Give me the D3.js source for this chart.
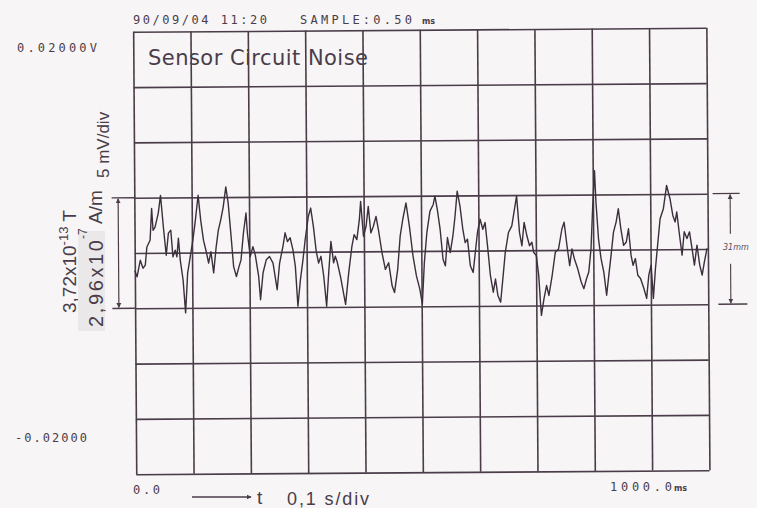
<!DOCTYPE html>
<html>
<head>
<meta charset="utf-8">
<script src="https://cdn.jsdelivr.net/npm/d3@7"></script>
<style>
  html, body { margin: 0; padding: 0; background: #f7f5f6; }
  svg { display: block; }
</style>
</head>
<body>
<svg id="chart" width="757" height="508"></svg>
<script>
// Recorded noise trace: time in ms, amplitude in mV (5 mV/div, 0.1 s/div)
const timeMs = [0, 3.8, 9.6, 14.3, 18.3, 21.3, 27.0, 30.0, 32.3, 35.8, 41.5,
  45.7, 50.3, 55.0, 59.0, 63.2, 66.7, 70.7, 73.6, 76.4, 79.4,
  84.1, 88.1, 92.1, 96.8, 101.6, 105.6, 111.3, 115.5, 120.1, 124.8,
  128.8, 133.0, 137.5, 142.2, 146.2, 150.4, 155.0, 159.7, 163.7, 167.9,
  172.4, 177.2, 181.2, 185.4, 189.9, 194.6, 196.8, 201.5, 206.3, 210.3,
  216.0, 219.0, 223.7, 229.4, 235.2, 241.2, 248.1, 252.7, 258.6, 262.6,
  266.6, 271.3, 276.1, 280.1, 284.1, 288.8, 293.5, 297.5, 303.3, 307.5,
  312.0, 316.7, 320.7, 324.9, 329.5, 334.2,
  338.2, 342.4, 346.9, 349.9, 352.8, 358.6, 367.3, 373.1, 379.0, 383.0,
  387.7, 392.3, 394.7, 399.3, 404.0, 408.0, 412.2, 416.7, 421.4, 425.4,
  431.4, 437.1, 442.9, 448.8, 452.8, 458.6, 463.3, 468.0, 473.8, 479.5,
  485.5, 491.2, 497.0, 501.2, 505.2, 509.9, 515.6, 521.4, 524.4, 528.4,
  533.1, 537.8, 541.8, 545.8, 550.5, 555.3, 559.3, 563.3, 568.0, 572.7,
  576.7, 580.7, 585.4, 590.2, 594.2, 598.2, 602.9, 607.6, 611.6, 615.6,
  620.3, 625.1, 629.1, 633.1, 637.8, 642.5, 646.5, 652.3, 658.2, 664.0,
  666.9, 671.5, 675.6, 679.7, 684.4, 688.9, 693.1, 695.9, 700.6, 704.6,
  707.6, 708.8, 713.4, 718.1, 722.1, 728.0, 733.8, 739.5, 745.5, 749.5,
  754.2, 758.7, 762.9, 766.9, 772.7, 778.6, 783.2, 787.9, 791.9, 796.1,
  799.6, 803.1, 805.3, 809.3, 813.5, 818.1, 822.8, 826.8, 831.0, 835.5,
  840.2, 844.2, 848.4, 853.0, 857.7, 861.7, 865.9, 869.3, 873.4, 877.4,
  882.1, 887.9, 892.6, 896.6, 900.8, 904.3, 908.3, 912.3, 917.0, 922.8,
  928.7, 934.5, 939.2, 943.2, 946.1, 950.7, 954.9, 958.9, 963.6, 968.1,
  972.3, 976.3, 981.0, 985.6, 989.7, 993.8, 998.5];

const noiseMv = [-1.6, -2.16, -0.66, -1.38, -1.11, 0.54, 1.14, 4.02, 2.04, 2.33, 3.57,
  5.19, 2.33, -0.22, 1.77, 2.04, -0.37, 0.23, -0.37, 1.31, -0.67,
  -2.47, -5.45, -1.85, -0.38, 1.13, 2.66, 5.18, 2.93, 1.12, 0.07,
  -0.95, 0.07, -1.85, 0.51, 2.02, 2.92, 4.12, 5.92, 4.42, 1.74,
  -1.29, -2.19, -1.41, -0.69, 1.74, 3.54, 1.74, -0.40, 0.50, -0.25,
  -2.20, -4.30, -1.87, -0.70, -0.40, -1.00, -3.41, -1.00, 0.49, 1.73,
  0.94, 1.28, 0.19, -1.31, -4.91, -2.51, -0.71, 1.09, 3.19, 3.95,
  2.29, 0.03, -1.02, -0.42, -2.22, -4.93,
  -1.92, 0.93, -1.02, -0.42, -0.87, -2.23, -4.78, -1.93, 0.47, 1.52,
  1.07, 2.87, 4.52, 1.37, 2.27, 4.07, 1.67, 2.27, 3.16, 1.97,
  -0.13, -1.64, -1.04, -3.15, -3.74, -1.64, 1.35, 2.86, 4.36, 2.25,
  -0.45, -2.25, -3.45, -4.81, -1.05, 1.65, 3.60, 4.20, 4.95, 3.75,
  1.94, -0.76, -1.36, 1.20, -0.16, 1.34, 3.14, 5.39, 4.04, 1.94,
  0.74, 1.04, -1.37, -1.97, -0.17, 1.64, 2.83, 1.93, 2.53, 0.42,
  -2.28, -3.77, -2.58, -4.08, -4.68, -2.28, -0.18, 1.62, 2.22, 4.02,
  4.92, 1.62, 0.41, 2.52, 1.31, 0.41, 0.72, -0.18, -0.49, -2.30,
  -5.00, -5.90, -4.40, -3.20, -4.10, -2.30, -0.19, 0.10, 1.90, 2.51,
  0.40, -1.41, 0.10, -0.80, -1.71, -2.90, -3.51, -2.61, -2.01, 0.09,
  3.99, 7.14, 4.30, 0.99, -0.81, -2.01, -4.12, -2.32, -0.52, 1.59,
  2.49, 3.69, 1.88, 0.38, 0.68, 1.88, -0.53, -1.43, -0.82, -2.33,
  -2.63, -3.53, -4.43, -2.33, -1.43, -4.43, -1.73, 0.37, 2.77, 3.67,
  5.77, 4.57, 3.06, 2.47, 3.37, 1.26, -0.54, 1.57, 0.96, 1.56,
  0.06, -1.45, 0.35, -1.45, -2.35, -1.14, 0.05];

// Grid divisions
const xDivisions = d3.range(0, 1001, 100);   // ms
const yDivisions = d3.range(-20, 21, 5);     // mV
const markerLevels = [5, -5];                // mV, span of the measured band

// Texts
const stampText = "90/09/04 11:20";
const sampleText = "SAMPLE:0.50";
const sampleUnit = "ms";
const titleText = "Sensor Circuit Noise";
const yTopLabel = "0.02000V";
const yBottomLabel = "-0.02000";
const xStartLabel = "0.0";
const xEndLabel = "1000.0";
const xAxisText = "0,1 s/div";
const bandWidthNote = "31mm";

const ink = "#4a3d49";
const traceInk = "#3b2f3b";
const plotFont = "'DejaVu Sans', Verdana, sans-serif";
const monoFont = "'DejaVu Sans Mono', monospace";
const labelFont = "'Liberation Sans', Arial, sans-serif";

const svg = d3.select("#chart");

svg.append("defs").html(`
  <marker id="ah" viewBox="0 0 10 10" refX="9" refY="5" markerWidth="5" markerHeight="6" orient="auto-start-reverse" markerUnits="userSpaceOnUse">
    <path d="M0,0 L10,5 L0,10 Z" fill="${ink}"/>
  </marker>`);

const x = d3.scaleLinear().domain([0, 1000]).range([134.7, 707.9]);
const y = d3.scaleLinear().domain([-20, 20]).range([472.2, 29.8]);

// Plot area (paper is very slightly skewed on the recorder)
const plot = svg.append("g").attr("transform", "rotate(-0.4 421 251)");

// Vertical grid lines from the time axis
plot.append("g")
  .attr("transform", `translate(0,${y(-20)})`)
  .call(d3.axisBottom(x).tickValues(xDivisions).tickSize(-(y(-20) - y(20))).tickSizeOuter(0).tickFormat(""))
  .call(g => g.select(".domain").remove())
  .call(g => g.selectAll(".tick line").attr("stroke", ink).attr("stroke-width", 1.6));

// Horizontal grid lines from the amplitude axis
plot.append("g")
  .attr("transform", `translate(${x(0)},0)`)
  .call(d3.axisLeft(y).tickValues(yDivisions).tickSize(-(x(1000) - x(0))).tickSizeOuter(0).tickFormat(""))
  .call(g => g.select(".domain").remove())
  .call(g => g.selectAll(".tick line").attr("stroke", ink).attr("stroke-width", 1.6));

// Extensions of the band limits to the left, with a double arrow
plot.append("g").selectAll("line").data(markerLevels).join("line")
  .attr("x1", 112).attr("x2", x(0))
  .attr("y1", d => y(d)).attr("y2", d => y(d))
  .attr("stroke", ink).attr("stroke-width", 1.4);

plot.append("line")
  .attr("x1", 118.5).attr("x2", 118.5)
  .attr("y1", y(markerLevels[0]) + 1).attr("y2", y(markerLevels[1]) - 1)
  .attr("stroke", ink).attr("stroke-width", 1.2)
  .attr("marker-start", "url(#ah)").attr("marker-end", "url(#ah)");

// Band limits on the right with the measured width
plot.append("line").attr("x1", 713).attr("x2", 740)
  .attr("y1", y(markerLevels[0])).attr("y2", y(markerLevels[0]))
  .attr("stroke", ink).attr("stroke-width", 1.3);
plot.append("line").attr("x1", 718).attr("x2", 747)
  .attr("y1", y(markerLevels[1])).attr("y2", y(markerLevels[1]))
  .attr("stroke", ink).attr("stroke-width", 1.3);
plot.append("line").attr("x1", 730.5).attr("x2", 730.5)
  .attr("y1", 236).attr("y2", y(markerLevels[0]) + 1)
  .attr("stroke", ink).attr("stroke-width", 1.1).attr("marker-end", "url(#ah)");
plot.append("line").attr("x1", 730.5).attr("x2", 730.5)
  .attr("y1", 266).attr("y2", y(markerLevels[1]) - 1)
  .attr("stroke", ink).attr("stroke-width", 1.1).attr("marker-end", "url(#ah)");

// Noise trace
const line = d3.line().x(d => x(d[0])).y(d => y(d[1]));
plot.append("path")
  .datum(d3.zip(timeMs, noiseMv))
  .attr("d", line)
  .attr("fill", "none")
  .attr("stroke", traceInk)
  .attr("stroke-width", 1.4)
  .attr("stroke-linejoin", "round");

// Header
svg.append("text").attr("x", 133).attr("y", 24)
  .attr("font-family", monoFont).attr("font-size", 12).attr("fill", ink)
  .attr("textLength", 134).attr("lengthAdjust", "spacing")
  .text(stampText);
svg.append("text").attr("x", 300).attr("y", 24)
  .attr("font-family", monoFont).attr("font-size", 12).attr("fill", ink)
  .attr("textLength", 112).attr("lengthAdjust", "spacing")
  .text(sampleText);
svg.append("text").attr("x", 422).attr("y", 24)
  .attr("font-family", plotFont).attr("font-size", 8).attr("font-weight", "bold").attr("fill", ink)
  .text(sampleUnit);

// Title inside the grid
svg.append("text").attr("x", 148).attr("y", 65)
  .attr("font-family", plotFont).attr("font-size", 21).attr("fill", ink)
  .attr("textLength", 220).attr("lengthAdjust", "spacing")
  .text(titleText);

// Range labels
svg.append("text").attr("x", 17).attr("y", 52)
  .attr("font-family", monoFont).attr("font-size", 12).attr("fill", ink)
  .attr("textLength", 80).attr("lengthAdjust", "spacing")
  .text(yTopLabel);
svg.append("text").attr("x", 15).attr("y", 442)
  .attr("font-family", monoFont).attr("font-size", 12).attr("fill", ink)
  .attr("textLength", 72).attr("lengthAdjust", "spacing")
  .text(yBottomLabel);
svg.append("text").attr("x", 133).attr("y", 494)
  .attr("font-family", monoFont).attr("font-size", 12).attr("fill", ink)
  .attr("textLength", 27).attr("lengthAdjust", "spacing")
  .text(xStartLabel);
svg.append("text").attr("x", 610).attr("y", 491)
  .attr("font-family", monoFont).attr("font-size", 12).attr("fill", ink)
  .attr("textLength", 62).attr("lengthAdjust", "spacing")
  .text(xEndLabel);
svg.append("text").attr("x", 674).attr("y", 491)
  .attr("font-family", plotFont).attr("font-size", 8).attr("font-weight", "bold").attr("fill", ink)
  .text(sampleUnit);

// Time axis note
svg.append("line").attr("x1", 192).attr("x2", 251).attr("y1", 497).attr("y2", 497)
  .attr("stroke", ink).attr("stroke-width", 1.4).attr("marker-end", "url(#ah)");
svg.append("text").attr("x", 257).attr("y", 504)
  .attr("font-family", labelFont).attr("font-size", 19).attr("fill", ink).text("t");
svg.append("text").attr("x", 287).attr("y", 505)
  .attr("font-family", labelFont).attr("font-size", 18).attr("fill", ink)
  .attr("textLength", 82).attr("lengthAdjust", "spacing")
  .text(xAxisText);

// Vertical scale notes
const teslaNote = svg.append("text")
  .attr("transform", "translate(76,313) rotate(-90)")
  .attr("font-family", labelFont).attr("font-size", 19).attr("fill", ink);
teslaNote.append("tspan").text("3,72x10");
teslaNote.append("tspan").attr("dy", -8).attr("font-size", 13).text("-13");
teslaNote.append("tspan").attr("dy", 8).text(" T");

svg.append("rect").attr("x", 78).attr("y", 231).attr("width", 27).attr("height", 100)
  .attr("fill", "#ebe8ea");
svg.append("text")
  .attr("transform", "translate(103,327) rotate(-90)")
  .attr("font-family", labelFont).attr("font-size", 20).attr("fill", ink)
  .attr("textLength", 87).attr("lengthAdjust", "spacing")
  .text("2,96x10");
svg.append("text")
  .attr("transform", "translate(87,239) rotate(-90)")
  .attr("font-family", labelFont).attr("font-size", 12).attr("fill", ink)
  .text("-7");
svg.append("text")
  .attr("transform", "translate(102,224) rotate(-90)")
  .attr("font-family", labelFont).attr("font-size", 19).attr("fill", ink)
  .text("A/m");
svg.append("text")
  .attr("transform", "translate(109,178) rotate(-90)")
  .attr("font-family", labelFont).attr("font-size", 17).attr("fill", ink)
  .text("5 mV/div");

// Handwritten width note
svg.append("text").attr("x", 723).attr("y", 250)
  .attr("font-family", plotFont).attr("font-size", 8).attr("font-style", "italic")
  .attr("fill", "#5a4d58")
  .text(bandWidthNote);
</script>
</body>
</html>
